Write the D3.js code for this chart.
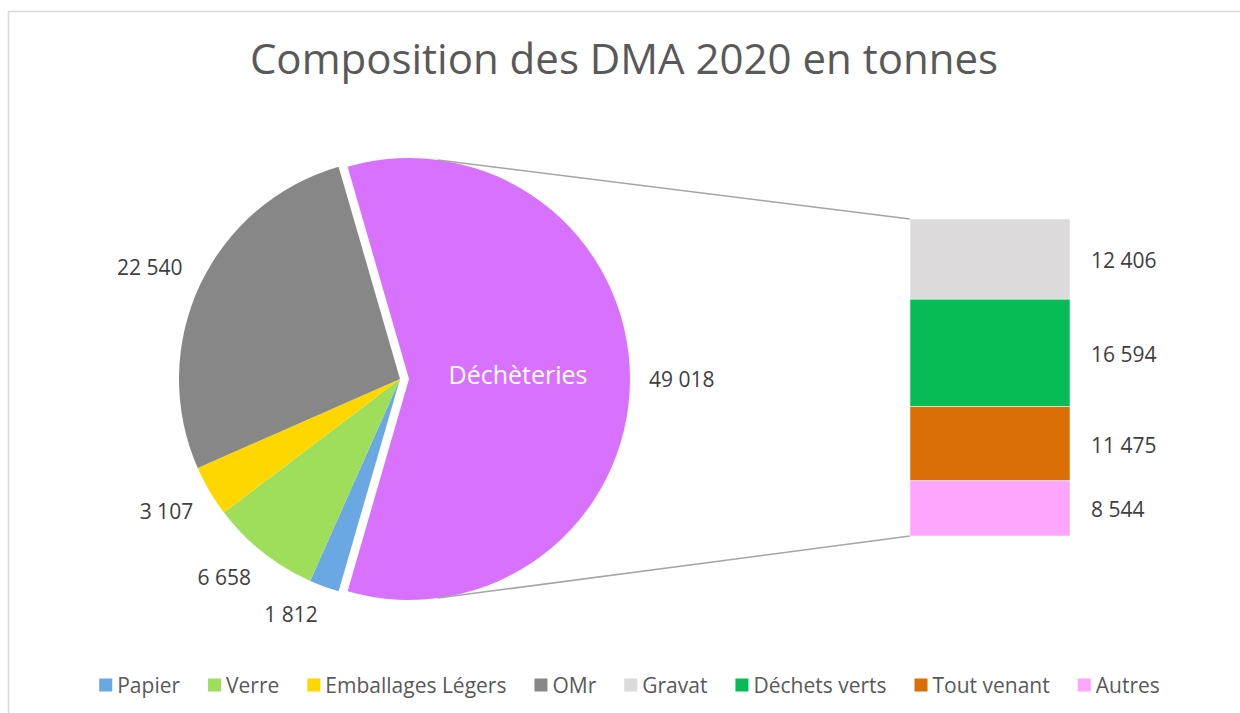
<!DOCTYPE html>
<html>
<head>
<meta charset="utf-8">
<script src="https://cdn.jsdelivr.net/npm/d3@7.9.0/dist/d3.min.js"></script>
<style>
  body { margin: 0; background: #fff; }
  svg { display: block; font-family: 'Open Sans', sans-serif; }
</style>
</head>
<body>
<svg id="chart" width="1240" height="713"></svg>
<script>
// main pie categories (the last one is split into the bar)
const pieLabels = ['Papier', 'Verre', 'Emballages Légers', 'OMr', 'Déchèteries'];
const pieValues = [1812, 6658, 3107, 22540, 49018];
const pieColors = ['#69a8e2', '#9ede5a', '#fed700', '#878787', '#d872fe'];

// breakdown of "Déchèteries"
const barLabels = ['Gravat', 'Déchets verts', 'Tout venant', 'Autres'];
const barValues = [12406, 16594, 11475, 8544];
const barColors = ['#dcdadb', '#07bc57', '#d96f06', '#fea5fe'];

const fmt = (v) => d3.format(',')(v).replace(/,/g, ' ');

const svg = d3.select('#chart');

// chart frame
svg.append('rect')
  .attr('x', 8.5).attr('y', 11.5)
  .attr('width', 1260).attr('height', 740)
  .attr('fill', '#fff')
  .attr('stroke', '#d9d9d9')
  .attr('stroke-width', 1.5);

svg.append('text')
  .attr('x', 624).attr('y', 74)
  .attr('text-anchor', 'middle')
  .attr('font-size', 42)
  .attr('fill', '#595959')
  .text('Composition des DMA 2020 en tonnes');

// pie
const cx = 400, cy = 379, radius = 221, explode = 9;
const total = d3.sum(pieValues);
const splitAngle = pieValues[pieValues.length - 1] / total * 2 * Math.PI;
const start = Math.PI / 2 + splitAngle / 2;

const pieData = pieLabels.map((label, i) => ({ label, value: pieValues[i], color: pieColors[i] }));
const arcs = d3.pie()
  .value((d) => d.value)
  .sort(null)
  .startAngle(start)
  .endAngle(start + 2 * Math.PI)(pieData);

const arcGen = d3.arc().innerRadius(0).outerRadius(radius);
const pieG = svg.append('g');

arcs.forEach((a, i) => {
  const mid = (a.startAngle + a.endAngle) / 2;
  const isSplit = i === arcs.length - 1;
  const ox = isSplit ? explode * Math.sin(mid) : 0;
  const oy = isSplit ? -explode * Math.cos(mid) : 0;
  const g = pieG.append('g').attr('transform', `translate(${cx + ox},${cy + oy})`);
  g.append('path')
    .attr('d', arcGen(a))
    .attr('fill', a.data.color);

  // value label outside the slice: nearest corner of its box sits on the mid angle
  const t = g.append('text')
    .attr('font-size', 21)
    .attr('fill', '#404040')
    .attr('text-anchor', 'middle')
    .attr('dominant-baseline', 'central')
    .text(fmt(a.data.value));
  const w = t.node().getComputedTextLength();
  const h = 20;
  const sx = Math.sin(mid), sy = -Math.cos(mid);
  const px = sx * (radius + 19), py = sy * (radius + 19);
  const dx = Math.abs(sx) < 0.1 ? 0 : Math.sign(sx) * w / 2;
  const dy = Math.abs(sy) < 0.1 ? 0 : Math.sign(sy) * h / 2;
  t.attr('x', px + dx).attr('y', py + dy);

  if (isSplit) {
    g.append('text')
      .attr('x', 109).attr('y', -5)
      .attr('text-anchor', 'middle')
      .attr('dominant-baseline', 'central')
      .attr('font-size', 25)
      .attr('fill', '#fff')
      .text(a.data.label);
  }
});

// bar of the split slice
const barX = 910, barW = 160;
const barTotal = d3.sum(barValues);
const y = d3.scaleLinear().domain([0, barTotal]).range([219, 536]);
const stacked = d3.cumsum(barValues);

// connector lines from exploded slice to the bar
const splitArc = arcs[arcs.length - 1];
const splitMid = (splitArc.startAngle + splitArc.endAngle) / 2;
const ecx = cx + explode * Math.sin(splitMid), ecy = cy - explode * Math.cos(splitMid);
const tA = 7.5 * Math.PI / 180;
svg.append('line')
  .attr('x1', ecx + radius * Math.sin(tA)).attr('y1', ecy - radius * Math.cos(tA))
  .attr('x2', barX).attr('y2', y(0))
  .attr('stroke', '#a5a5a5').attr('stroke-width', 1.5);
svg.append('line')
  .attr('x1', ecx + radius * Math.sin(tA)).attr('y1', ecy + radius * Math.cos(tA))
  .attr('x2', barX).attr('y2', y(barTotal))
  .attr('stroke', '#a5a5a5').attr('stroke-width', 1.5);

barValues.forEach((v, i) => {
  const y0 = y(stacked[i] - v), y1 = y(stacked[i]);
  svg.append('rect')
    .attr('x', barX).attr('y', y0)
    .attr('width', barW).attr('height', y1 - y0)
    .attr('fill', barColors[i])
    .attr('stroke', '#fff').attr('stroke-opacity', 0.5).attr('stroke-width', 1);
  svg.append('text')
    .attr('x', 1091).attr('y', (y0 + y1) / 2 + 1)
    .attr('dominant-baseline', 'central')
    .attr('font-size', 21)
    .attr('fill', '#404040')
    .text(fmt(v));
});

// legend
const legendNames = pieLabels.slice(0, 4).concat(barLabels);
const legendColors = pieColors.slice(0, 4).concat(barColors);
const legend = svg.append('g');
let lx = 0;
legendNames.forEach((name, i) => {
  const item = legend.append('g').attr('transform', `translate(${lx},0)`);
  item.append('rect')
    .attr('x', 0).attr('y', -6.5)
    .attr('width', 13).attr('height', 13)
    .attr('fill', legendColors[i]);
  const t = item.append('text')
    .attr('x', 18).attr('y', 0)
    .attr('dominant-baseline', 'central')
    .attr('font-size', 21)
    .attr('fill', '#595959')
    .text(name);
  lx += 18 + t.node().getComputedTextLength() + 28;
});
lx -= 28;
legend.attr('transform', `translate(${629.5 - lx / 2},685)`);
</script>
</body>
</html>
